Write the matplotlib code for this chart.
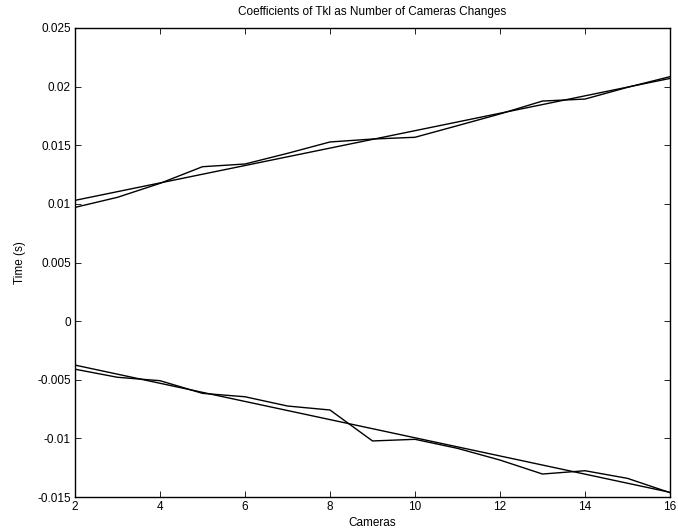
import matplotlib
matplotlib.use("Agg")
import matplotlib.pyplot as plt
from matplotlib.ticker import FuncFormatter

plt.rcParams['font.family'] = ['Liberation Sans', 'DejaVu Sans']

cameras = [2, 3, 4, 5, 6, 7, 8, 9, 10, 11, 12, 13, 14, 15, 16]

# measured coefficients
coef_upper = [0.0097, 0.01056, 0.01175, 0.01317, 0.0134, 0.01431, 0.01528,
              0.01553, 0.01568, 0.01667, 0.01767, 0.01877, 0.01894, 0.01994, 0.02085]
coef_lower = [-0.0041, -0.00479, -0.00508, -0.00616, -0.00645, -0.00724, -0.00758,
              -0.01022, -0.01008, -0.01085, -0.01185, -0.01304, -0.01276, -0.01341, -0.01463]

# linear trend lines (end points at 2 and 16 cameras)
fit_x = [2, 16]
fit_upper = [0.0103, 0.0207]
fit_lower = [-0.00375, -0.0146]

x_ticks = [2, 4, 6, 8, 10, 12, 14, 16]
y_ticks = [-0.015, -0.01, -0.005, 0, 0.005, 0.01, 0.015, 0.02, 0.025]

fig = plt.figure(figsize=(6.78, 5.32), dpi=100)
ax = fig.add_axes([75 / 678, 35 / 532, 595 / 678, 469 / 532])

ax.plot(cameras, coef_upper, color='black', lw=1.0)
ax.plot(fit_x, fit_upper, color='black', lw=1.0)
ax.plot(cameras, coef_lower, color='black', lw=1.0)
ax.plot(fit_x, fit_lower, color='black', lw=1.0)

ax.set_xlim(2, 16)
ax.set_ylim(-0.015, 0.025)
ax.set_xticks(x_ticks)
ax.set_yticks(y_ticks)
ax.yaxis.set_major_formatter(FuncFormatter(lambda v, p: '%g' % round(v, 4)))
ax.tick_params(direction='in', length=4, width=0.6, top=True, right=True,
               labelsize=8.5, pad=3, colors='black')
for s in ax.spines.values():
    s.set_linewidth(1.0)

ax.set_title('Coefficients of Tkl as Number of Cameras Changes', fontsize=8.5, pad=9)
ax.set_xlabel('Cameras', fontsize=8.5, labelpad=3)
ax.set_ylabel('Time (s)', fontsize=8.5, labelpad=8)

fig.savefig('out.png', dpi=100)
